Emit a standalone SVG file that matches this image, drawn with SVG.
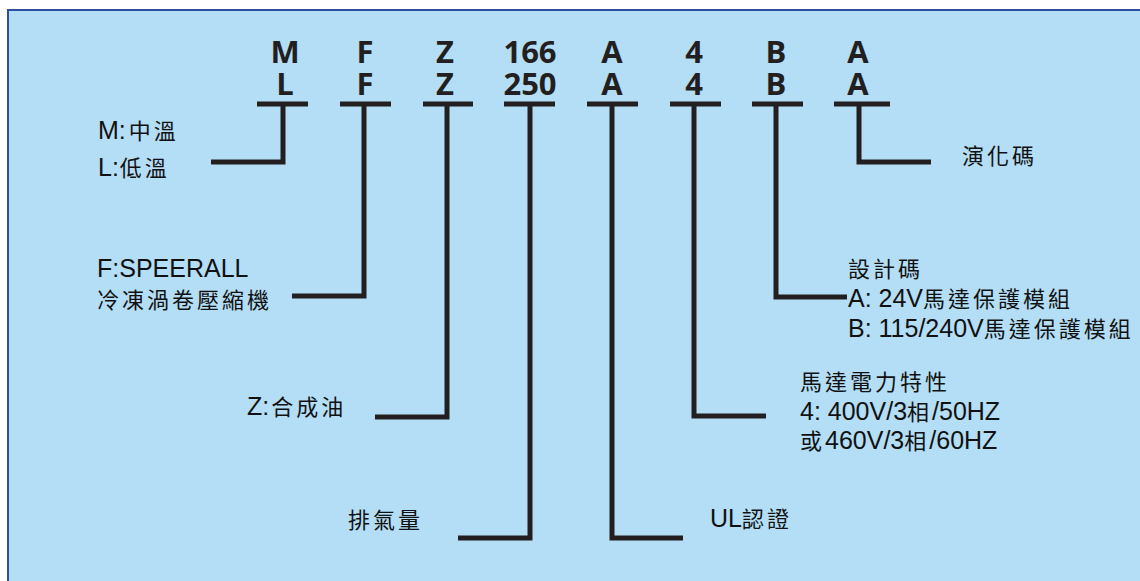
<svg xmlns="http://www.w3.org/2000/svg" width="1140" height="581" viewBox="0 0 1140 581">
<style>
.code{font-family:"Open Sans","DejaVu Sans",sans-serif;font-weight:700;font-size:31px;fill:#231F20;text-anchor:middle}
.lbl{font-family:"Liberation Sans","Noto Sans CJK TC",sans-serif;font-size:25px;fill:#111}
.c{font-family:"Noto Sans CJK TC",sans-serif;font-size:22px;letter-spacing:3px}
.ln{fill:none;stroke:#231F20;stroke-width:5;stroke-linejoin:miter;stroke-linecap:butt}
</style>
<rect x="0" y="0" width="1140" height="581" fill="#FFFFFF"/>
<rect x="8" y="10" width="1140" height="580" fill="#B3DEF6" stroke="#2F4F9F" stroke-width="2"/>
<g id="codes">
<g id="code-M"><text class="code"><tspan x="285" y="63">M</tspan><tspan x="285" y="95">L</tspan></text></g>
<g id="code-F"><text class="code"><tspan x="365" y="63">F</tspan><tspan x="365" y="95">F</tspan></text></g>
<g id="code-Z"><text class="code"><tspan x="445" y="63">Z</tspan><tspan x="445" y="95">Z</tspan></text></g>
<g id="code-166"><text class="code"><tspan x="530" y="63">166</tspan><tspan x="530" y="95">250</tspan></text></g>
<g id="code-A"><text class="code"><tspan x="612" y="63">A</tspan><tspan x="612" y="95">A</tspan></text></g>
<g id="code-4"><text class="code"><tspan x="694" y="63">4</tspan><tspan x="694" y="95">4</tspan></text></g>
<g id="code-B"><text class="code"><tspan x="776" y="63">B</tspan><tspan x="776" y="95">B</tspan></text></g>
<g id="code-A2"><text class="code"><tspan x="858" y="63">A</tspan><tspan x="858" y="95">A</tspan></text></g>
</g>
<g id="connectors">
<path class="ln" d="M257,104H308M283,104V162H211"/>
<path class="ln" d="M340,104H391M364,104V296H292"/>
<path class="ln" d="M423,104H473M447,104V417H375"/>
<path class="ln" d="M504,104H555M530,104V538H458"/>
<path class="ln" d="M587,104H638M612,104V538H683"/>
<path class="ln" d="M670,104H721M694,104V416H766"/>
<path class="ln" d="M752,104H803M776,104V297H847"/>
<path class="ln" d="M834,104H890M859,104V162H931"/>
</g>
<g id="label-temp">
<text class="lbl" x="98" y="139">M:<tspan class="c" dx="3">中溫</tspan></text>
<text class="lbl" x="98" y="176">L:<tspan class="c" dx="1">低溫</tspan></text>
</g>
<g id="label-type">
<text class="lbl" x="97" y="277">F:SPEERALL</text>
<text class="lbl" x="97" y="308"><tspan class="c">冷凍渦卷壓縮機</tspan></text>
</g>
<g id="label-oil">
<text class="lbl" x="247" y="415">Z:<tspan class="c" dx="2">合成油</tspan></text>
</g>
<g id="label-disp">
<text class="lbl" x="348" y="528"><tspan class="c">排氣量</tspan></text>
</g>
<g id="label-ul">
<text class="lbl" x="710" y="527">UL<tspan class="c">認證</tspan></text>
</g>
<g id="label-motor">
<text class="lbl" x="800" y="390"><tspan class="c">馬達電力特性</tspan></text>
<text class="lbl" x="800" y="420">4: 400V/3<tspan class="c" letter-spacing="0">相</tspan>/50HZ</text>
<text class="lbl" x="800" y="449"><tspan class="c" letter-spacing="0">或</tspan>460V/3<tspan class="c" letter-spacing="0">相</tspan>/60HZ</text>
</g>
<g id="label-design">
<text class="lbl" x="848" y="277"><tspan class="c">設計碼</tspan></text>
<text class="lbl" x="848" y="307">A: 24V<tspan class="c">馬達保護模組</tspan></text>
<text class="lbl" x="848" y="337">B: 115/240V<tspan class="c">馬達保護模組</tspan></text>
</g>
<g id="label-rev">
<text class="lbl" x="962" y="164"><tspan class="c">演化碼</tspan></text>
</g>
</svg>
